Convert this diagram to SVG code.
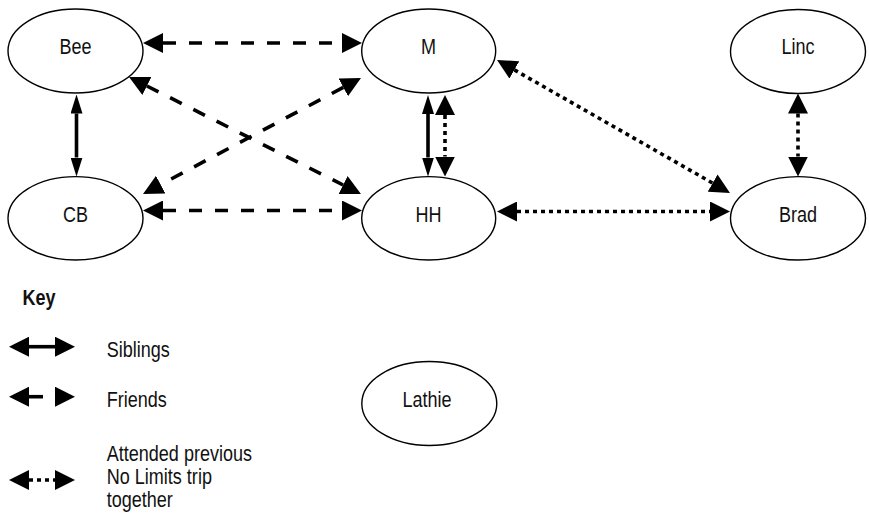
<svg xmlns="http://www.w3.org/2000/svg" width="869" height="514" viewBox="0 0 869 514">
<style>
.node ellipse{fill:#fff;stroke:#000;stroke-width:1.4}
text{font-family:"Liberation Sans",Arial,sans-serif;font-size:22px;fill:#111}
.lbl{text-anchor:middle}
.solid,.dash,.dot{fill:none;stroke:#000;stroke-width:3.6}
.dash{stroke-dasharray:13 13}
.dot{stroke-dasharray:4 4}
.w{marker-start:url(#hw);marker-end:url(#hw)}
.n{marker-start:url(#hn);marker-end:url(#hn)}
</style>
<defs>
<marker id="hw" markerUnits="userSpaceOnUse" viewBox="0 0 20 20" markerWidth="20" markerHeight="20" refX="0" refY="10" orient="auto-start-reverse"><path d="M0,0 L20,10 L0,20 z" fill="#000"/></marker>
<marker id="hn" markerUnits="userSpaceOnUse" viewBox="0 0 19 12" markerWidth="19" markerHeight="12" refX="0" refY="6" orient="auto-start-reverse"><path d="M0,0 L19,6 L0,12 z" fill="#000"/></marker>
</defs>
<g id="connectors">
<path class="dash w" d="M163,43 L342,43"/>
<path class="dash w" d="M163,210.5 L342,210.5"/>
<path class="dash w" d="M146.9,86 L343.1,185"/>
<path class="dash w" d="M343.3,87.4 L160.7,184.6"/>
<path class="solid n" d="M76.5,113.5 L76.5,157.5"/>
<path class="solid n" d="M428,114 L428,157.5"/>
<path class="dot w" d="M445,115 L445,156.5"/>
<path class="dot w" d="M514.4,69.9 L712.6,183.1"/>
<path class="dot w" d="M517,211.5 L710,211.5"/>
<path class="dot w" d="M798,113.5 L798,156.5"/>
</g>
<g id="node-bee" class="node"><ellipse cx="75.5" cy="51" rx="67.5" ry="42"/><text class="lbl" transform="translate(75.5 53.5) scale(0.82 1)">Bee</text></g>
<g id="node-m" class="node"><ellipse cx="428.7" cy="51" rx="67" ry="42"/><text class="lbl" transform="translate(428.5 53.5) scale(0.82 1)">M</text></g>
<g id="node-linc" class="node"><ellipse cx="798" cy="51.5" rx="67.5" ry="42"/><text class="lbl" transform="translate(798 53.5) scale(0.82 1)">Linc</text></g>
<g id="node-cb" class="node"><ellipse cx="75.5" cy="218.3" rx="67.5" ry="41.7"/><text class="lbl" transform="translate(75.5 221.5) scale(0.82 1)">CB</text></g>
<g id="node-hh" class="node"><ellipse cx="428.7" cy="218.3" rx="67" ry="41.7"/><text class="lbl" transform="translate(428.5 221.5) scale(0.82 1)">HH</text></g>
<g id="node-brad" class="node"><ellipse cx="798" cy="218.3" rx="67.5" ry="41.7"/><text class="lbl" transform="translate(798 221.5) scale(0.82 1)">Brad</text></g>
<g id="node-lathie" class="node"><ellipse cx="429.3" cy="403.5" rx="67.5" ry="42"/><text class="lbl" transform="translate(427 407) scale(0.82 1)">Lathie</text></g>
<g id="key">
<text transform="translate(22.5 305) scale(0.82 1)" font-weight="bold">Key</text>
<path class="solid w" d="M29,346.7 L55,346.7"/>
<path class="solid w" d="M29,396.7 L55,396.7" stroke-dasharray="14 12"/>
<path class="dot w" d="M29,480 L55,480"/>
<text transform="translate(106.7 357) scale(0.82 1)">Siblings</text>
<text transform="translate(106.7 406.5) scale(0.82 1)">Friends</text>
<text transform="translate(106.7 460.5) scale(0.82 1)">Attended previous</text>
<text transform="translate(106.7 483.5) scale(0.82 1)">No Limits trip</text>
<text transform="translate(106.7 506.5) scale(0.82 1)">together</text>
</g>
</svg>
